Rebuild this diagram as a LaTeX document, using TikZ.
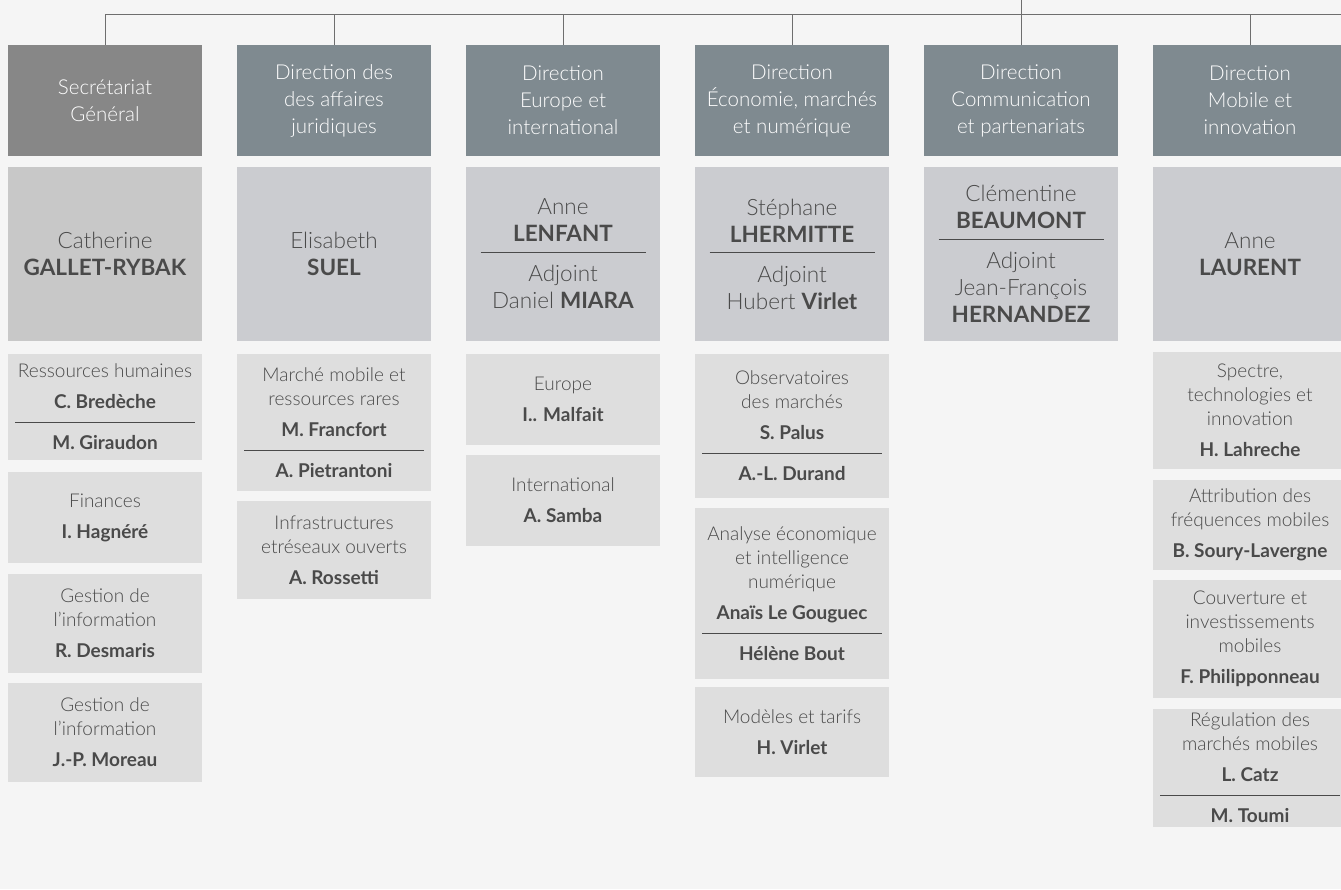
\documentclass[tikz,border=0pt]{standalone}
\usepackage{fontspec}
\setmainfont{Lato}[UprightFont=* Light, BoldFont=* Bold]
\usetikzlibrary{positioning}

\definecolor{bgcol}{HTML}{F5F5F5}
\definecolor{linecol}{HTML}{6E6E6E}
\definecolor{hdrcol}{HTML}{7F8A90}
\definecolor{sgcol}{HTML}{878787}
\definecolor{chiefcol}{HTML}{CBCCD0}
\definecolor{sgchiefcol}{HTML}{C8C8C8}
\definecolor{unitcol}{HTML}{DEDEDE}
\definecolor{txtcol}{HTML}{4A4A4A}

\tikzset{
  link/.style={draw=linecol, line width=1pt},
  hdr/.style={rectangle, fill=hdrcol, text=white, anchor=north west, inner sep=0pt, outer sep=0pt,
    minimum width=194pt, minimum height=111pt, align=center, font=\fontsize{20.5}{27}\selectfont},
  chief/.style={rectangle, fill=chiefcol, text=txtcol, anchor=north west, inner sep=0pt, outer sep=0pt,
    minimum width=194pt, minimum height=174pt, align=center, font=\fontsize{22.5}{27}\selectfont},
  unit/.style={rectangle, fill=unitcol, text=txtcol, anchor=north west, inner sep=0pt, outer sep=0pt,
    minimum width=194pt, align=center, font=\fontsize{19}{24}\selectfont}
}
\newcommand{\chiefsep}{\\[-16pt]\rule{165pt}{0.8pt}\\[2pt]}
\newcommand{\unitsep}{\\[-10pt]\rule{180pt}{0.8pt}\\[3pt]}

\begin{document}
\begin{tikzpicture}[x=1pt,y=-1pt]
\fill[bgcol] (0,0) rectangle (1341,889);
\useasboundingbox (0,0) rectangle (1341,889);

% directions
\node[hdr, fill=sgcol] (sg) at (8,45) {Secrétariat\\Général};
\node[hdr] (daj) at (237,45) {Direction des\\des affaires\\juridiques};
\node[hdr] (dei) at (466,45) {Direction\\Europe et\\international};
\node[hdr] (demn) at (695,45) {Direction\\Économie, marchés\\et numérique};
\node[hdr] (dcp) at (924,45) {Direction\\Communication\\et partenariats};
\node[hdr] (dmi) at (1153,45) {Direction\\Mobile et\\innovation};

% links
\coordinate (parent) at (1021,0);
\coordinate (busend) at (1341,14);
\draw[link] (sg.north |- busend) -- (busend);
\draw[link] (parent) -- (dcp.north);
\draw[link] (sg.north |- busend) -- (sg.north);
\draw[link] (daj.north |- busend) -- (daj.north);
\draw[link] (dei.north |- busend) -- (dei.north);
\draw[link] (demn.north |- busend) -- (demn.north);
\draw[link] (dmi.north |- busend) -- (dmi.north);

% heads
\node[chief, fill=sgchiefcol] (sg-chief) at (8,167) {Catherine\\\textbf{GALLET-RYBAK}};
\node[chief] (daj-chief) at (237,167) {Elisabeth\\\textbf{SUEL}};
\node[chief] (dei-chief) at (466,167) {Anne\\\textbf{LENFANT}\chiefsep Adjoint\\Daniel \textbf{MIARA}};
\node[chief] (demn-chief) at (695,167) {Stéphane\\\textbf{LHERMITTE}\chiefsep Adjoint\\Hubert \textbf{Virlet}};
\node[chief] (dcp-chief) at (924,167) {Clémentine\\\textbf{BEAUMONT}\chiefsep Adjoint\\Jean-François\\\textbf{HERNANDEZ}};
\node[chief] (dmi-chief) at (1153,167) {Anne\\\textbf{LAURENT}};

% units
\node[unit, minimum height=106pt] (sg-rh) at (8,354) {Ressources humaines\\[7pt]\textbf{C. Bredèche}\unitsep\textbf{M. Giraudon}};
\node[unit, minimum height=91pt] (sg-fin) at (8,472) {Finances\\[7pt]\textbf{I. Hagnéré}};
\node[unit, minimum height=99pt] (sg-info1) at (8,574) {Gestion de\\l’information\\[7pt]\textbf{R. Desmaris}};
\node[unit, minimum height=99pt] (sg-info2) at (8,683) {Gestion de\\l’information\\[7pt]\textbf{J.-P. Moreau}};

\node[unit, minimum height=137pt] (daj-mob) at (237,354) {Marché mobile et\\ressources rares\\[7pt]\textbf{M. Francfort}\unitsep\textbf{A. Pietrantoni}};
\node[unit, minimum height=98pt] (daj-infra) at (237,501) {Infrastructures\\etréseaux ouverts\\[7pt]\textbf{A. Rossetti}};

\node[unit, minimum height=91pt] (dei-eur) at (466,354) {Europe\\[7pt]\textbf{I.. Malfait}};
\node[unit, minimum height=91pt] (dei-int) at (466,455) {International\\[7pt]\textbf{A. Samba}};

\node[unit, minimum height=144pt] (demn-obs) at (695,354) {Observatoires\\des marchés\\[7pt]\textbf{S. Palus}\unitsep\textbf{A.-L. Durand}};
\node[unit, minimum height=171pt] (demn-ana) at (695,508) {Analyse économique\\et intelligence\\numérique\\[7pt]\textbf{Anaïs Le Gouguec}\unitsep\textbf{Hélène Bout}};
\node[unit, minimum height=90pt] (demn-tar) at (695,687) {Modèles et tarifs\\[7pt]\textbf{H. Virlet}};

\node[unit, minimum height=117pt] (dmi-spec) at (1153,352) {Spectre,\\technologies et\\innovation\\[7pt]\textbf{H. Lahreche}};
\node[unit, minimum height=90pt] (dmi-freq) at (1153,480) {Attribution des\\fréquences mobiles\\[7pt]\textbf{B. Soury-Lavergne}};
\node[unit, minimum height=118pt] (dmi-couv) at (1153,580) {Couverture et\\investissements\\mobiles\\[7pt]\textbf{F. Philipponneau}};
\node[unit, minimum height=118pt] (dmi-reg) at (1153,709) {Régulation des\\marchés mobiles\\[7pt]\textbf{L. Catz}\unitsep\textbf{M. Toumi}};

\end{tikzpicture}
\end{document}
